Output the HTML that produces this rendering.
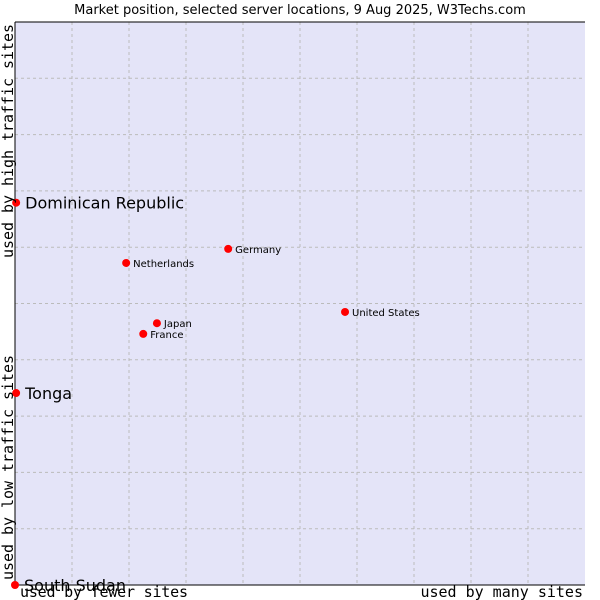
<!DOCTYPE html>
<html><head><meta charset="utf-8"><style>
body{margin:0;background:#fff;width:600px;height:600px;overflow:hidden}
svg{display:block}
</style></head><body>
<svg width="600" height="600" xmlns="http://www.w3.org/2000/svg">
<text x="300" y="14" text-anchor="middle" font-family="DejaVu Sans, sans-serif" font-size="13" fill="#000">Market position, selected server locations, 9 Aug 2025, W3Techs.com</text>
<rect x="15" y="22" width="570" height="563" fill="#e4e4f8"/>
<g id="grid"></g>
<line x1="15" y1="22" x2="15" y2="585" stroke="#000"/>
<line x1="15" y1="585" x2="585" y2="585" stroke="#000"/>
<line x1="15" y1="22" x2="585" y2="22" stroke="#000"/>
<g id="marks"></g>
<text x="20" y="597" font-family="DejaVu Sans Mono, Liberation Mono, monospace" font-size="15" textLength="168">used by fewer sites</text>
<text x="583" y="597" text-anchor="end" font-family="DejaVu Sans Mono, Liberation Mono, monospace" font-size="15">used by many sites</text>
<text transform="translate(13,580) rotate(-90)" font-family="DejaVu Sans Mono, Liberation Mono, monospace" font-size="15" textLength="225">used by low traffic sites</text>
<text transform="translate(13,258) rotate(-90)" font-family="DejaVu Sans Mono, Liberation Mono, monospace" font-size="15" textLength="234">used by high traffic sites</text>
</svg>
<script>
const names = ["Dominican Republic","Tonga","South Sudan","Netherlands","Germany","United States","Japan","France"];
const xValues = [0.2,0.2,0,19.5,37.4,57.9,24.9,22.5];
const yValues = [67.9,34.1,0,57.2,59.7,48.5,46.5,44.6];
const bigLabel = [true,true,true,false,false,false,false,false];
const NS="http://www.w3.org/2000/svg";
const X0=15,X1=585,Y0=585,Y1=22;
function sx(v){return X0+(X1-X0)*v/100;}
function sy(v){return Y0-(Y0-Y1)*v/100;}
const grid=document.getElementById('grid');
for(let i=1;i<10;i++){
  const x=X0+i*(X1-X0)/10, y=Y0-i*(Y0-Y1)/10;
  const l1=document.createElementNS(NS,'line');
  l1.setAttribute('x1',x);l1.setAttribute('x2',x);l1.setAttribute('y1',Y1);l1.setAttribute('y2',Y0);
  l1.setAttribute('stroke','#bbb');l1.setAttribute('stroke-dasharray','3,3');
  
  
  grid.appendChild(l1);
  const l2=document.createElementNS(NS,'line');
  l2.setAttribute('y1',y);l2.setAttribute('y2',y);l2.setAttribute('x1',X0);l2.setAttribute('x2',X1);
  l2.setAttribute('stroke','#bbb');l2.setAttribute('stroke-dasharray','3,3');
  
  
  grid.appendChild(l2);
}
const marks=document.getElementById('marks');
names.forEach((n,i)=>{
  const cx=sx(xValues[i]), cy=sy(yValues[i]);
  const p=document.createElementNS(NS,'circle');
  p.setAttribute('cx',cx);p.setAttribute('cy',cy);p.setAttribute('r','4');
  p.setAttribute('fill','#f00');
  
  
  marks.appendChild(p);
  const t=document.createElementNS(NS,'text');
  t.setAttribute('x',cx+(bigLabel[i]?9:7));
  t.setAttribute('y',cy+(bigLabel[i]?6:4));
  t.setAttribute('font-family','DejaVu Sans, sans-serif');
  t.setAttribute('font-size',bigLabel[i]?'16':'10');
  t.textContent=n;
  
  
  marks.appendChild(t);
});
</script>
</body></html>
